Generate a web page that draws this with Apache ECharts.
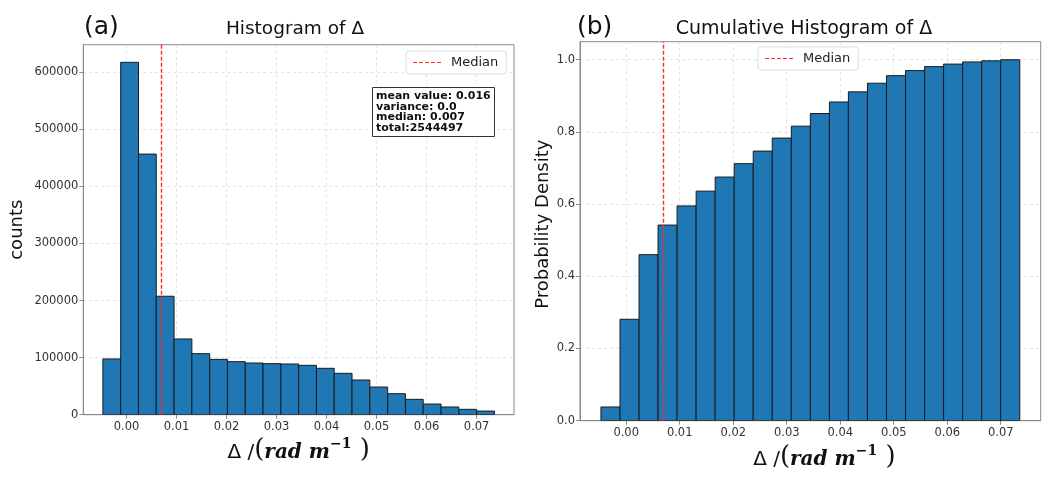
<!DOCTYPE html>
<html>
<head>
<meta charset="utf-8">
<script src="https://cdn.jsdelivr.net/npm/echarts@6/dist/echarts.min.js"></script>
<style>
html,body{margin:0;padding:0;background:#fff;}
#main{width:1056px;height:481px;}
</style>
</head>
<body>
<div id="main"></div>
<script>
// ---- data ----
const binEdges = [-0.00472, -0.00116, 0.00240, 0.00595, 0.00951, 0.01307, 0.01663, 0.02019,
  0.02374, 0.02730, 0.03086, 0.03442, 0.03798, 0.04153, 0.04509, 0.04865, 0.05221,
  0.05577, 0.05932, 0.06288, 0.06644, 0.07000, 0.07356];
const binCounts = [97700, 617500, 456700, 207600, 132700, 107000, 97000, 93000, 90600,
  89500, 88900, 86500, 81300, 72500, 60800, 48500, 36800, 26900, 18700, 13500, 9400, 6400];
const cumulative = [0.038, 0.281, 0.460, 0.542, 0.595, 0.636, 0.675, 0.712, 0.747, 0.783,
  0.816, 0.851, 0.883, 0.911, 0.935, 0.956, 0.970, 0.981, 0.988, 0.994, 0.997, 1.000];
const medianValue = 0.007;
const xTicks = [0.00, 0.01, 0.02, 0.03, 0.04, 0.05, 0.06, 0.07];
const countTicks = [0, 100000, 200000, 300000, 400000, 500000, 600000];
const probTicks = [0.0, 0.2, 0.4, 0.6, 0.8, 1.0];
const statsLines = ['mean value: 0.016', 'variance: 0.0', 'median: 0.007', 'total:2544497'];

const FONT = 'DejaVu Sans';
const BAR = '#1f77b4';
const FRAME = '#8a8a8a';
const RED = '#ff2a2a';
const DASH_ICON = 'path://M0,0h4v1h-4zM6,0h4v1h-4zM12,0h4v1h-4zM18,0h4v1h-4zM24,0h4v1h-4z';

const histData = binCounts.map((c, i) => [binEdges[i], binEdges[i + 1], c]);
const cumData = cumulative.map((c, i) => [binEdges[i], binEdges[i + 1], c]);

function renderBin(params, api) {
  const p0 = api.coord([api.value(0), api.value(2)]);
  const p1 = api.coord([api.value(1), 0]);
  return {
    type: 'rect',
    shape: { x: p0[0], y: p0[1], width: p1[0] - p0[0], height: p1[1] - p0[1] },
    style: { fill: BAR, stroke: '#1b1b1b', lineWidth: 1 }
  };
}

const xName = '{d|Δ /}{p|(}{i|rad m}{s|−1}{p| )}';
function xNameStyle(padLeft) {
  return {
    padding: [0, 0, 0, padLeft],
    rich: {
      d: { fontFamily: FONT, fontSize: 20, color: '#111', padding: [4, 0, 0, 0] },
      p: { fontFamily: 'DejaVu Serif', fontSize: 26, color: '#111' },
      i: { fontFamily: 'DejaVu Serif', fontStyle: 'italic', fontWeight: 'bold', fontSize: 20, color: '#111', padding: [4, 0, 0, 0] },
      s: { fontFamily: 'DejaVu Serif', fontWeight: 'bold', fontSize: 14, color: '#111', verticalAlign: 'top', padding: [0, 0, 12, 0] }
    }
  };
}

function xAxisCfg(gridIndex, gap, padLeft) {
  return {
    type: 'value', gridIndex: gridIndex,
    min: -0.008634, max: 0.07747,
    name: xName, nameLocation: 'middle', nameGap: gap, nameTextStyle: xNameStyle(padLeft),
    axisLine: { show: true, onZero: false, lineStyle: { color: FRAME } },
    axisTick: { show: true, length: 4, customValues: xTicks, lineStyle: { color: FRAME } },
    axisLabel: { customValues: xTicks, fontFamily: FONT, fontSize: 11.5, color: '#333', margin: 6,
      formatter: v => v.toFixed(2) },
    splitLine: { show: true, lineStyle: { color: '#dcdcdc', type: [3, 3], width: 0.8 } }
  };
}

function medianSeries(idx) {
  return {
    type: 'line', name: 'Median', xAxisIndex: idx, yAxisIndex: idx, data: [], symbol: 'none', z: 10,
    lineStyle: { color: RED, type: [4, 2], width: 1.4 }, itemStyle: { color: RED },
    markLine: { silent: true, precision: 6, z: 10, symbol: ['none', 'none'], label: { show: false },
      lineStyle: { color: RED, type: [4, 2], width: 1.4 }, data: [{ xAxis: medianValue }] }
  };
}

function legendCfg(left, top) {
  return {
    left: left, top: top, z: 20, data: [{ name: 'Median', icon: DASH_ICON, itemStyle: { color: RED } }],
    itemWidth: 28, itemHeight: 1.5, itemGap: 8,
    padding: [5, 8, 5, 7], borderColor: '#dddddd', borderWidth: 1, borderRadius: 3, backgroundColor: '#fff',
    textStyle: { fontFamily: FONT, fontSize: 13, color: '#222', padding: [0, 0, 0, 5] }, selectedMode: false
  };
}

const option = {
  animation: false,
  backgroundColor: '#fff',
  title: [
    { text: '(a)', left: 79, top: 10, textStyle: { fontFamily: FONT, fontSize: 25, fontWeight: 'normal', color: '#111' } },
    { text: 'Histogram of Δ', left: 290, top: 15, textAlign: 'center', textStyle: { fontFamily: FONT, fontSize: 18.5, fontWeight: 'normal', color: '#111' } },
    { text: '(b)', left: 572, top: 10, textStyle: { fontFamily: FONT, fontSize: 25, fontWeight: 'normal', color: '#111' } },
    { text: 'Cumulative Histogram of Δ', left: 799, top: 15, textAlign: 'center', textStyle: { fontFamily: FONT, fontSize: 19, fontWeight: 'normal', color: '#111' } },
    { text: statsLines.join('\n'), left: 372, top: 87, padding: [4, 4, 3, 4], z: 20,
      borderColor: '#333', borderWidth: 1, backgroundColor: '#fff',
      textStyle: { fontFamily: FONT, fontSize: 11, fontWeight: 'bold', color: '#111', lineHeight: 10.6 } }
  ],
  legend: [legendCfg(406, 51), legendCfg(758, 47)],
  grid: [
    { left: 83.3, top: 44.7, width: 430.7, height: 370, show: true, borderColor: FRAME, borderWidth: 1, backgroundColor: 'transparent' },
    { left: 580, top: 41.7, width: 460.7, height: 379, show: true, borderColor: FRAME, borderWidth: 1, backgroundColor: 'transparent' }
  ],
  xAxis: [xAxisCfg(0, 20, 0), xAxisCfg(1, 24, 28)],
  yAxis: [
    { type: 'value', gridIndex: 0, min: 0, max: 648400,
      name: 'counts', nameLocation: 'middle', nameGap: 57,
      nameTextStyle: { fontFamily: FONT, fontSize: 18, color: '#111' },
      axisLine: { show: true, onZero: false, lineStyle: { color: FRAME } },
      axisTick: { show: true, length: 4, customValues: countTicks, lineStyle: { color: FRAME } },
      axisLabel: { customValues: countTicks, fontFamily: FONT, fontSize: 11.5, color: '#333', margin: 5,
        formatter: v => String(Math.round(v)) },
      splitLine: { show: true, lineStyle: { color: '#dcdcdc', type: [3, 3], width: 0.8 } } },
    { type: 'value', gridIndex: 1, min: 0, max: 1.05,
      name: 'Probability Density', nameLocation: 'middle', nameGap: 28,
      nameTextStyle: { fontFamily: FONT, fontSize: 18, color: '#111', padding: [0, 0, 0, 14] },
      axisLine: { show: true, onZero: false, lineStyle: { color: FRAME } },
      axisTick: { show: true, length: 4, customValues: probTicks, lineStyle: { color: FRAME } },
      axisLabel: { customValues: probTicks, fontFamily: FONT, fontSize: 11.5, color: '#333', margin: 5,
        formatter: v => v.toFixed(1) },
      splitLine: { show: true, lineStyle: { color: '#dcdcdc', type: [3, 3], width: 0.8 } } }
  ],
  series: [
    { type: 'custom', name: 'counts', xAxisIndex: 0, yAxisIndex: 0, renderItem: renderBin,
      encode: { x: [0, 1], y: 2 }, data: histData, clip: true },
    medianSeries(0),
    { type: 'custom', name: 'cumulative', xAxisIndex: 1, yAxisIndex: 1, renderItem: renderBin,
      encode: { x: [0, 1], y: 2 }, data: cumData, clip: true },
    medianSeries(1)
  ]
};

const chart = echarts.init(document.getElementById('main'), null, { renderer: 'canvas' });
chart.setOption(option);
</script>
</body>
</html>
